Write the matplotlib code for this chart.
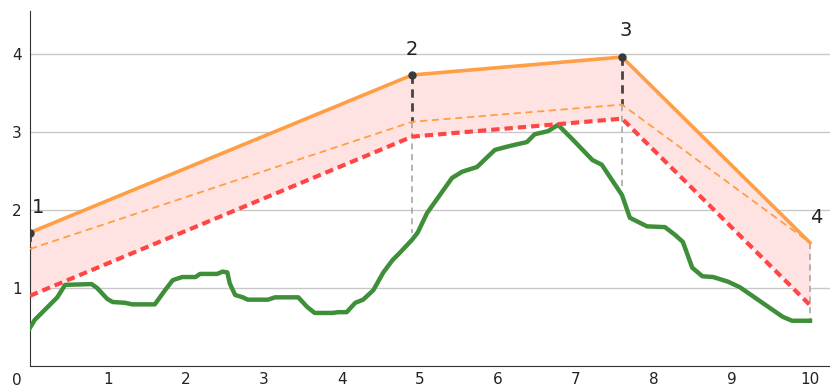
import matplotlib
matplotlib.use("Agg")
import matplotlib.pyplot as plt

# key points 1..4
pt_x = [0.0, 4.9, 7.59, 10.0]
pt_top = [1.71, 3.73, 3.96, 1.58]
pt_mid = [1.50, 3.13, 3.35, 1.58]
pt_low = [0.90, 2.94, 3.17, 0.78]
pt_ground = [0.49, 1.70, 2.26, 0.58]
pt_labels = ["1", "2", "3", "4"]

# green curve
gx = [0.00, 0.06, 0.19, 0.35, 0.45, 0.79, 0.86, 0.99, 1.06, 1.22, 1.31, 1.60, 1.73, 1.83,
      1.95, 2.12, 2.18, 2.40, 2.47, 2.53, 2.56, 2.63, 2.73, 2.79, 3.05, 3.14, 3.44, 3.55,
      3.65, 3.88, 3.95, 4.06, 4.17, 4.27, 4.40, 4.53, 4.65, 4.74, 4.90, 4.97, 5.09, 5.41,
      5.54, 5.73, 5.96, 6.15, 6.37, 6.47, 6.64, 6.77, 6.96, 7.21, 7.33, 7.59, 7.69, 7.91,
      8.14, 8.27, 8.37, 8.49, 8.62, 8.76, 8.95, 9.10, 9.65, 9.77, 10.0]
gy = [0.49, 0.59, 0.72, 0.88, 1.04, 1.05, 1.00, 0.86, 0.82, 0.81, 0.79, 0.79, 0.97, 1.10,
      1.14, 1.14, 1.18, 1.18, 1.21, 1.20, 1.06, 0.91, 0.88, 0.85, 0.85, 0.88, 0.88, 0.76,
      0.68, 0.68, 0.69, 0.69, 0.81, 0.85, 0.97, 1.20, 1.36, 1.45, 1.62, 1.71, 1.96, 2.41,
      2.49, 2.55, 2.77, 2.82, 2.87, 2.97, 3.01, 3.09, 2.90, 2.64, 2.58, 2.19, 1.90, 1.79,
      1.78, 1.68, 1.59, 1.26, 1.15, 1.14, 1.08, 1.01, 0.63, 0.58, 0.58]

xticks = [1, 2, 3, 4, 5, 6, 7, 8, 9, 10]
yticks = [1, 2, 3, 4]

fig = plt.figure(figsize=(8.3, 3.88), dpi=100)
ax = fig.add_axes([30 / 830, 22 / 388, 800 / 830, 355 / 388])
ax.set_xlim(0, 10.256)
ax.set_ylim(0, 4.55)

for v in yticks:
    ax.axhline(v, color="#c8c8c8", lw=1, zorder=0)

ax.fill_between(pt_x, pt_top, pt_low, color="#ffe3e3", zorder=1, lw=0)

# verticals
for i in range(4):
    ax.plot([pt_x[i], pt_x[i]], [pt_mid[i], pt_ground[i]], color="#a0a0a0",
            lw=1.1, ls=(0, (4, 3)), zorder=2)
    if pt_top[i] > pt_mid[i]:
        ax.plot([pt_x[i], pt_x[i]], [pt_top[i], pt_mid[i]], color="#444444",
                lw=2, ls=(0, (3, 2)), zorder=3)

ax.plot(gx, gy, color="#3f8f3a", lw=3.2, solid_joinstyle="round", zorder=4)
ax.plot(pt_x, pt_low, color="#ff4646", lw=3, ls=(0, (2, 1.2)), zorder=5)
ax.plot(pt_x, pt_mid, color="#ff9f45", lw=1.3, ls=(0, (4, 2.5)), zorder=5)
ax.plot(pt_x, pt_top, color="#ff9f45", lw=2.6, zorder=6)
ax.plot(pt_x[:3], pt_top[:3], "o", color="#3a3a3a", ms=5, zorder=7)

offs = [(0.03, 0.2), (-0.01, 0.2), (0.05, 0.22), (0.0, 0.2)]
for i in range(4):
    ax.text(pt_x[i] + offs[i][0], pt_top[i] + offs[i][1], pt_labels[i],
            fontsize=14, ha="left" if i in (0, 3) else "center", va="bottom",
            color="#222222")

for s in ["top", "right"]:
    ax.spines[s].set_visible(False)
ax.spines["left"].set_color("#333333")
ax.spines["bottom"].set_color("#333333")
ax.set_xticks(xticks)
ax.set_yticks(yticks)
ax.tick_params(length=0, labelsize=11, colors="#222222")
ax.tick_params(axis="x", pad=4)
ax.tick_params(axis="y", pad=6)
ax.text(-0.17, -0.19, "0", fontsize=11, ha="center", va="center", color="#222222")

fig.savefig("out.png", dpi=100)
